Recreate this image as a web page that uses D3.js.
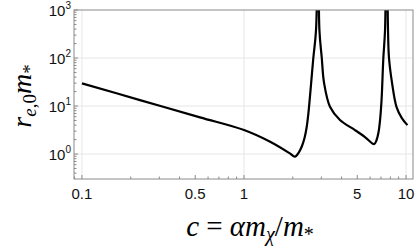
<!DOCTYPE html>
<html>
<head>
<meta charset="utf-8">
<script src="https://cdn.jsdelivr.net/npm/d3@7"></script>
<style>
  html, body { margin: 0; padding: 0; background: #fff; }
  svg { display: block; }
</style>
</head>
<body>
<svg id="chart" width="417" height="248"></svg>
<script>
// values
const cValues = [0.1, 0.228, 0.535, 1, 1.45, 1.92, 2.06, 2.185, 2.28, 2.363, 2.432, 2.494, 2.574, 2.678, 2.783, 2.87,
  2.92, 3.02, 3.12, 3.40, 3.91, 4.84, 5.58, 6.35, 6.58, 6.766, 6.912, 7.061, 7.244, 7.42, 7.58,
  7.74, 7.85, 8.20, 8.74, 9.42, 10.2];
const rValues = [29.7, 13.3, 5.8, 3.16, 1.8, 1.03, 0.88, 1.10, 1.47, 2.15, 3.48, 6.81, 21.5, 100, 383, 100000,
  383, 100, 30.1, 9.5, 5.1, 3.16, 2.26, 1.61, 1.96, 2.87, 5.11, 13.3, 100, 383, 100000,
  383, 100, 30, 9.5, 5.6, 4.0];

const xTickValues = [0.1, 0.5, 1, 5, 10];
const xTickLabels = ["0.1", "0.5", "1", "5", "10"];
const xGridValues = [0.1, 1, 10];
const yTickValues = [1, 10, 100, 1000];
const yTickExponents = ["0", "1", "2", "3"];
const yGridValues = [1, 10, 100];

const plotL = 74, plotR = 413, plotT = 10, plotB = 179;

const x = d3.scaleLog().domain([0.0893, 11.04]).range([plotL, plotR]);
const y = d3.scaleLog().domain([0.302, 1000]).range([plotB, plotT]);

const svg = d3.select("#chart");
const frameColor = "#8a8a8a";
const gridColor = "#e6e6e6";

// grid
svg.append("g").selectAll("line").data(xGridValues).join("line")
  .attr("x1", d => x(d)).attr("x2", d => x(d))
  .attr("y1", plotT).attr("y2", plotB)
  .attr("stroke", gridColor).attr("stroke-width", 1);
svg.append("g").selectAll("line").data(yGridValues).join("line")
  .attr("x1", plotL).attr("x2", plotR)
  .attr("y1", d => y(d)).attr("y2", d => y(d))
  .attr("stroke", gridColor).attr("stroke-width", 1);

// curve
svg.append("clipPath").attr("id", "plot-clip")
  .append("rect").attr("x", plotL).attr("y", plotT)
  .attr("width", plotR - plotL).attr("height", plotB - plotT);

const pts = cValues.map((c, i) => [c, rValues[i]]);
const line = d3.line()
  .x(d => x(d[0]))
  .y(d => y(d[1]))
  .curve(d3.curveCatmullRom.alpha(0.5));

svg.append("path")
  .datum(pts)
  .attr("d", line)
  .attr("clip-path", "url(#plot-clip)")
  .attr("fill", "none")
  .attr("stroke", "#000")
  .attr("stroke-width", 2.2)
  .attr("stroke-linejoin", "round");

// ticks (inward)
const xMinor = x.ticks(20).filter(v => !xTickValues.includes(v));
const yMinor = y.ticks(40).filter(v => !yTickValues.includes(v));

const ticks = svg.append("g").attr("stroke", frameColor).attr("stroke-width", 1);
ticks.selectAll(".xmaj").data(xTickValues).join("line")
  .attr("x1", d => x(d)).attr("x2", d => x(d))
  .attr("y1", plotB).attr("y2", plotB - 4);
ticks.selectAll(".xmin").data(xMinor).join("line")
  .attr("x1", d => x(d)).attr("x2", d => x(d))
  .attr("y1", plotB).attr("y2", plotB - 2.5);
ticks.selectAll(".ymaj").data(yTickValues).join("line")
  .attr("x1", plotL).attr("x2", plotL + 4)
  .attr("y1", d => y(d)).attr("y2", d => y(d));
ticks.selectAll(".ymin").data(yMinor).join("line")
  .attr("x1", plotL).attr("x2", plotL + 2.5)
  .attr("y1", d => y(d)).attr("y2", d => y(d));

// frame
svg.append("rect")
  .attr("x", plotL).attr("y", plotT)
  .attr("width", plotR - plotL).attr("height", plotB - plotT)
  .attr("fill", "none").attr("stroke", frameColor).attr("stroke-width", 1);

// tick labels
const tickFont = "'Liberation Sans', Arial, sans-serif";
svg.append("g").selectAll("text").data(xTickValues).join("text")
  .attr("x", d => x(d))
  .attr("y", plotB + 20)
  .attr("text-anchor", "middle")
  .style("font-family", tickFont)
  .style("font-size", "15px")
  .attr("fill", "#111")
  .text((d, i) => xTickLabels[i]);

const yl = svg.append("g").selectAll("text").data(yTickValues).join("text")
  .attr("x", plotL - 3)
  .attr("y", d => y(d) + 6)
  .attr("text-anchor", "end")
  .style("font-family", tickFont)
  .style("font-size", "15px")
  .attr("fill", "#111");
yl.append("tspan").text("10");
yl.append("tspan")
  .attr("dy", -7)
  .style("font-size", "10px")
  .text((d, i) => yTickExponents[i]);

// axis titles
const mathFont = "'Liberation Serif', 'Times New Roman', serif";

const xt = svg.append("text")
  .attr("x", 250)
  .attr("y", 236)
  .attr("text-anchor", "middle")
  .style("font-family", mathFont)
  .style("font-size", "29px")
  .attr("fill", "#000");
xt.append("tspan").style("font-style", "italic").text("c");
xt.append("tspan").text(" = ");
xt.append("tspan").style("font-style", "italic").text("αm");
xt.append("tspan").style("font-style", "italic").style("font-size", "20px").attr("dy", 5).text("χ");
xt.append("tspan").attr("dy", -5).text("/");
xt.append("tspan").style("font-style", "italic").text("m");
xt.append("tspan").style("font-size", "20px").attr("dy", 5).text("*");

const yt = svg.append("text")
  .attr("transform", "translate(31,96) rotate(-90)")
  .attr("text-anchor", "middle")
  .style("font-family", mathFont)
  .style("font-size", "28px")
  .attr("fill", "#000");
yt.append("tspan").style("font-style", "italic").text("r");
yt.append("tspan").style("font-style", "italic").style("font-size", "19px").attr("dy", 5).text("e");
yt.append("tspan").style("font-size", "19px").text(",0");
yt.append("tspan").attr("dy", -5).style("font-style", "italic").text("m");
yt.append("tspan").style("font-size", "19px").attr("dy", 5).text("*");
</script>
</body>
</html>
